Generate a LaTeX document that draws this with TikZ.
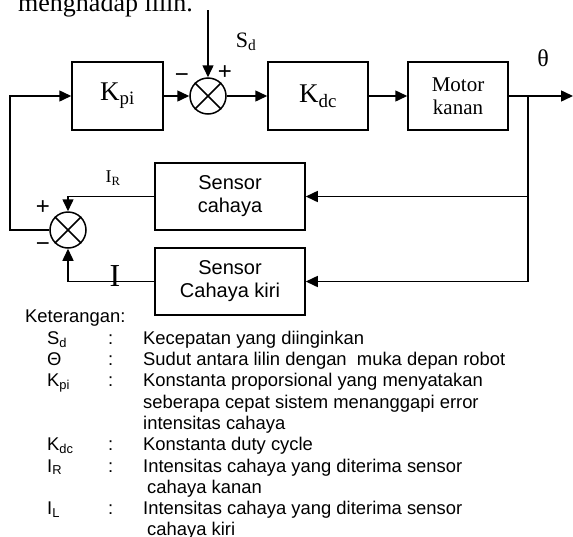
\documentclass[tikz,border=0pt]{standalone}
\usepackage{fontspec}
\setmainfont{Liberation Serif}
\setsansfont{Liberation Sans}
\usetikzlibrary{arrows.meta, positioning, calc}

\tikzset{
  >={Triangle[length=12pt,width=11pt]},
  % Blok diagram
  blok/.style={draw,line width=1.5pt,inner sep=0pt,minimum height=68pt,align=center},
  blok k/.style={blok,font=\fontsize{27}{27}\selectfont},
  blok motor/.style={blok,minimum width=100pt,font=\fontsize{21}{23}\selectfont},
  sensor/.style={blok,minimum width=150pt,minimum height=67pt,font=\sffamily\fontsize{20}{23}\selectfont},
  jumlah/.style={draw,circle,line width=1.5pt,minimum size=36pt,inner sep=0pt},
  % Garis sinyal
  sinyal/.style={line width=1.5pt},
  tanda/.style={font=\sffamily\fontsize{24}{24}\selectfont,inner sep=0pt},
  label sinyal/.style={font=\fontsize{22}{22}\selectfont,inner sep=0pt},
  % Keterangan
  ket/.style={anchor=base west,inner sep=0pt,font=\sffamily\fontsize{18.4}{21}\selectfont}
}

\begin{document}
\begin{tikzpicture}[x=1pt,y=-1pt]
  \useasboundingbox (0,0) rectangle (573,536);
  % Sisa kalimat di atas gambar
  \node[anchor=base west,inner sep=0pt,font=\fontsize{26}{26}\selectfont] (judul) at (18,11) {menghadap lilin.};
  % Jalur maju
  \node[blok k,minimum width=91pt] (Kpi) at (117.5,96) {K\textsubscript{pi}};
  \node[jumlah] (s1) at (208,96) {};
  \node[blok k,minimum width=100pt] (Kdc) at (318,96) {K\textsubscript{dc}};
  \node[blok motor] (Motor) at (458,96) {Motor\\kanan};
  \coordinate (Sdin) at (208,10);
  \coordinate (keluar) at (573,96);
  \coordinate (cabang) at (528,96);
  \draw[sinyal] (s1.north west) -- (s1.south east) (s1.north east) -- (s1.south west);
  \draw[sinyal,->] (Sdin) -- (s1);
  \draw[sinyal,->] (Kpi) -- (s1);
  \draw[sinyal,->] (s1) -- (Kdc);
  \draw[sinyal,->] (Kdc) -- (Motor);
  \draw[sinyal,->] (Motor) -- (keluar);
  \node[label sinyal] (Sd) at (246,42) {S\textsubscript{d}};
  \node[font=\fontsize{24}{24}\selectfont,inner sep=0pt] (theta) at (543,58) {θ};
  \node[tanda] (min1) at (182,78) {−};
  \node[tanda] (plus1) at (225,73) {+};
  % Umpan balik sensor
  \node[sensor] (SR) at (230,196.5) {Sensor\\cahaya};
  \node[sensor] (SL) at (230,281.5) {Sensor\\Cahaya kiri};
  \node[jumlah] (s2) at (68,230) {};
  \coordinate (kiri) at (10,230);
  \draw[sinyal] (s2.north west) -- (s2.south east) (s2.north east) -- (s2.south west);
  \draw[sinyal,->] (cabang) |- (SR.east);
  \draw[sinyal,->] (cabang) |- (SL.east);
  \draw[sinyal,->] (SR.west) -| (s2);
  \draw[sinyal,->] (SL.west) -| (s2);
  \draw[sinyal,->] (s2) -- (kiri) |- (Kpi);
  \node[font=\fontsize{18}{18}\selectfont,inner sep=0pt] (IR) at (113,178) {I\textsubscript{R}};
  \node[font=\fontsize{32}{32}\selectfont,inner sep=0pt] (IL) at (115,276) {I};
  \node[tanda] (plus2) at (43,208) {+};
  \node[tanda] (min2) at (43,247) {−};
  % Keterangan
  \node[ket] (keterangan) at (25,322) {Keterangan:};
  \foreach \sym/\teks/\yy [count=\i] in {
      S\textsubscript{d}/Kecepatan yang diinginkan/344,
      Θ/Sudut antara lilin dengan\ \ muka depan robot/365.3,
      K\textsubscript{pi}/Konstanta proporsional yang menyatakan/386.6,
      K\textsubscript{dc}/Konstanta duty cycle/450.5,
      I\textsubscript{R}/Intensitas cahaya yang diterima sensor/472,
      I\textsubscript{L}/Intensitas cahaya yang diterima sensor/514.4}{
    \node[ket] (sym-\i) at (47,\yy) {\sym};
    \node[ket] (titik-\i) at (108,\yy) {:};
    \node[ket] (teks-\i) at (143,\yy) {\teks};
  }
  \node[ket] (teks-3b) at (143,408) {seberapa cepat sistem menanggapi error};
  \node[ket] (teks-3c) at (143,429) {intensitas cahaya};
  \node[ket] (teks-5b) at (147,493) {cahaya kanan};
  \node[ket] (teks-6b) at (147,535.7) {cahaya kiri};
\end{tikzpicture}
\end{document}
